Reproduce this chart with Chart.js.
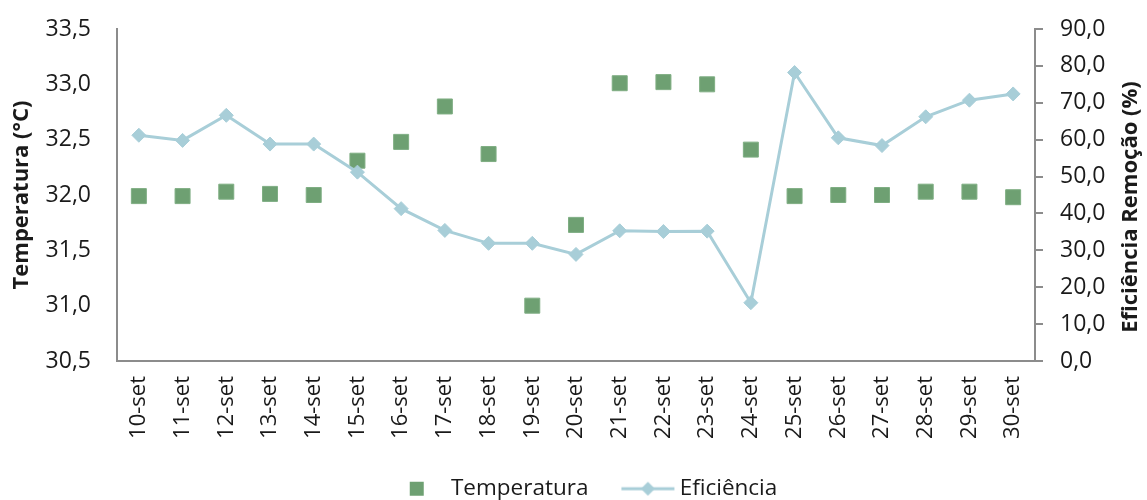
<!DOCTYPE html>
<html><head><meta charset="utf-8">
<script src="https://cdn.jsdelivr.net/npm/chart.js@4/dist/chart.umd.min.js"></script>
<style>html,body{margin:0;padding:0;background:#fff}#wrap{width:1147px;height:500px;position:relative}</style>
</head><body><div id="wrap"><canvas id="c"></canvas></div>
<script>
const categories = ['10-set','11-set','12-set','13-set','14-set','15-set','16-set','17-set','18-set','19-set','20-set','21-set','22-set','23-set','24-set','25-set','26-set','27-set','28-set','29-set','30-set'];
const temperatura = [31.99,31.99,32.03,32.01,32.00,32.31,32.48,32.80,32.37,31.00,31.73,33.01,33.02,33.00,32.41,31.99,32.00,32.00,32.03,32.03,31.98];
const eficiencia = [61.2,59.8,66.6,58.8,58.8,51.2,41.3,35.4,31.9,31.9,28.9,35.3,35.1,35.2,15.8,78.2,60.5,58.4,66.2,70.7,72.4];
const leftTitle = 'Temperatura (°C)';
const rightTitle = 'Eficiência Remoção (%)';

const FONT = "'Open Sans', sans-serif";
const GREEN = '#6ea072';
const BLUE = '#a8ced8';
const AXIS = '#8c8c8c';
const TXT = '#1a1a1a';

function fmt(v){ return Number(v).toFixed(1).replace('.', ','); }

// legend symbols (drawn centred on a 70px legend box)
const sq = document.createElement('canvas'); sq.width = 140; sq.height = 16;
(function(){ const g = sq.getContext('2d'); g.fillStyle = GREEN; g.fillRect(75,1,14,14); })();
const ln = document.createElement('canvas'); ln.width = 140; ln.height = 16;
(function(){ const g = ln.getContext('2d'); g.strokeStyle = BLUE; g.lineWidth = 3;
  g.beginPath(); g.moveTo(58,8); g.lineTo(111,8); g.stroke();
  g.fillStyle = BLUE; g.beginPath(); g.moveTo(84.5,1); g.lineTo(91.5,8); g.lineTo(84.5,15); g.lineTo(77.5,8); g.closePath(); g.fill(); })();

const rightTitlePlugin = {
  id: 'rightTitle',
  afterLayout(chart){
    if (chart.legend) { chart.legend.top += 10; chart.legend.bottom += 10; }
  },
  afterDraw(chart){
    const ctx = chart.ctx; ctx.save();
    ctx.font = "bold 22px " + FONT; ctx.fillStyle = TXT;
    ctx.textAlign = 'center'; ctx.textBaseline = 'middle';
    ctx.translate(1131, 207); ctx.rotate(-Math.PI/2);
    ctx.fillText(rightTitle, 0, 0); ctx.restore();
  }
};

function noPad(s){ s.paddingTop = 0; s.paddingBottom = 0; }

new Chart(document.getElementById('c'), {
  type: 'line',
  data: {
    labels: categories,
    datasets: [
      { label: 'Temperatura', data: temperatura, yAxisID: 'y', showLine: false, order: 1,
        pointStyle: 'rect', pointRadius: 10.6, pointHoverRadius: 10.6,
        backgroundColor: GREEN, borderColor: '#7fae83', pointBorderWidth: 1 },
      { label: 'Eficiência', data: eficiencia, yAxisID: 'y1', order: 0,
        borderColor: BLUE, borderWidth: 3, tension: 0,
        pointStyle: 'rectRot', pointRadius: 7, pointHoverRadius: 7,
        pointBackgroundColor: BLUE, pointBorderColor: BLUE, pointBorderWidth: 1 }
    ]
  },
  options: {
    responsive: true, maintainAspectRatio: false, animation: false,
    layout: { padding: { top: 29, left: 0, right: 0, bottom: 0 } },
    plugins: {
      tooltip: { enabled: false },
      legend: {
        position: 'bottom',
        labels: {
          usePointStyle: true, pointStyleWidth: 70, padding: 10,
          font: { family: FONT, size: 22.5 }, color: TXT,
          generateLabels(chart){
            const items = Chart.defaults.plugins.legend.labels.generateLabels(chart);
            items.sort((a,b)=>a.datasetIndex-b.datasetIndex);
            items.forEach(it => { it.pointStyle = it.datasetIndex === 0 ? sq : ln; });
            return items;
          }
        }
      }
    },
    scales: {
      x: {
        offset: true,
        grid: { display: false, drawTicks: false },
        border: { display: true, color: AXIS, width: 2 },
        ticks: { minRotation: 90, maxRotation: 90, padding: 15, color: TXT, font: { family: FONT, size: 22 } },
        afterFit(s){ s.height = 96.5; }
      },
      y: {
        position: 'left', min: 30.5, max: 33.5,
        grid: { drawOnChartArea: false, drawTicks: false },
        border: { display: true, color: AXIS, width: 2 },
        ticks: { stepSize: 0.5, padding: 26, color: TXT, font: { family: FONT, size: 23 }, callback: v => fmt(v) },
        title: { display: true, text: leftTitle, color: TXT, font: { family: FONT, size: 22, weight: 'bold' }, padding: { top: 9, bottom: 0 } },
        afterFit(s){ s.width = 117; noPad(s); }
      },
      y1: {
        position: 'right', min: 0, max: 90,
        grid: { drawOnChartArea: false, drawTicks: true, tickLength: 8, color: AXIS, lineWidth: 2 },
        border: { display: true, color: AXIS, width: 2 },
        ticks: { stepSize: 10, padding: 17, color: TXT, font: { family: FONT, size: 23 }, callback: v => fmt(v) },
        afterFit(s){ s.width = 112; noPad(s); }
      }
    }
  },
  plugins: [rightTitlePlugin]
});
</script></body></html>
